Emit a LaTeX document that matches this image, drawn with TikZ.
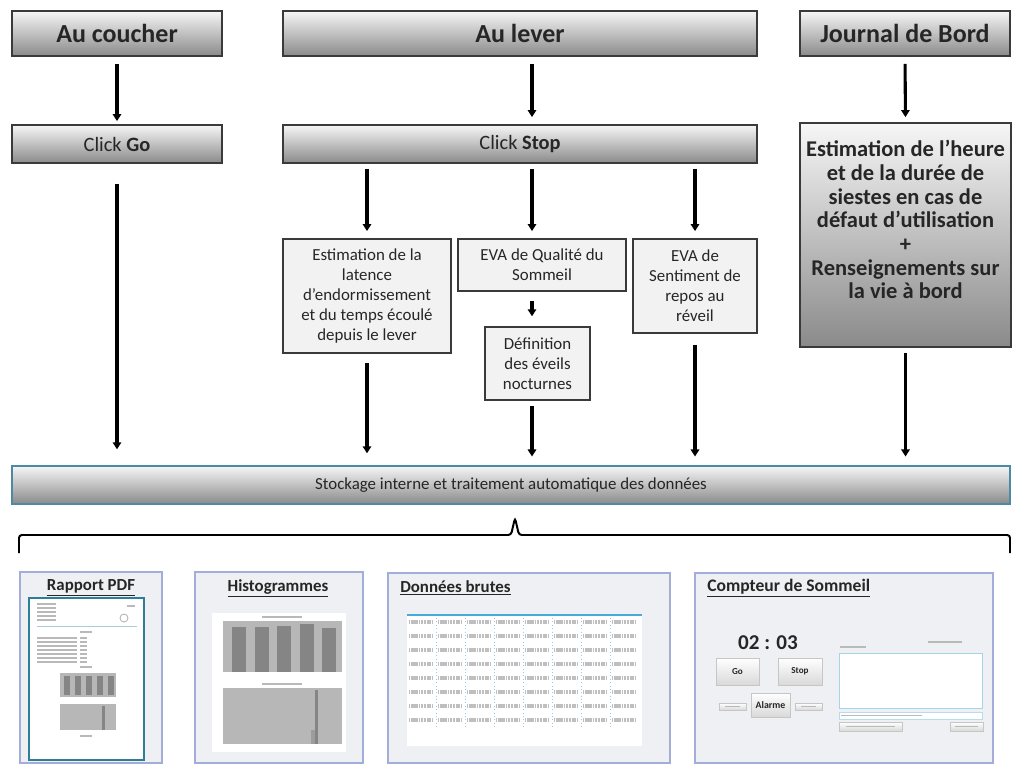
\documentclass[tikz,border=0pt]{standalone}
\usepackage{fontspec}
\setmainfont{Carlito}
\usetikzlibrary{arrows.meta}

\definecolor{boxline}{HTML}{3A3A3A}
\definecolor{boxtop}{HTML}{F6F6F6}
\definecolor{boxbot}{HTML}{8A8A8A}
\definecolor{flatfill}{HTML}{F2F2F2}
\definecolor{stockline}{HTML}{4C8AA4}
\definecolor{panelline}{HTML}{A4ACDA}
\definecolor{panelfill}{HTML}{EFF0F3}
\definecolor{barfill}{HTML}{B7B7B7}
\definecolor{bardark}{HTML}{858585}
\definecolor{pageline}{HTML}{2F7E98}
\definecolor{cyanline}{HTML}{47AAD8}

\begin{document}
\begin{tikzpicture}[x=0.025cm, y=-0.025cm,
    every node/.style={inner sep=2pt, align=center, text=black!85},
    headbox/.style={draw=boxline, line width=1pt, top color=boxtop, bottom color=boxbot},
    flatbox/.style={draw=boxline, line width=1pt, fill=flatfill},
    flow/.style={-{Triangle[width=6pt,length=5pt]}, line width=2.2pt},
    bigtext/.style={font=\fontsize{18.5}{22}\selectfont\bfseries},
    clicktext/.style={font=\fontsize{14.5}{17}\selectfont},
    smalltext/.style={font=\fontsize{12}{14.2}\selectfont},
    jtextstyle/.style={font=\fontsize{16}{16.8}\selectfont\bfseries},
    panel/.style={draw=panelline, line width=0.8pt, fill=panelfill},
    paneltitle/.style={font=\fontsize{12}{14}\selectfont\bfseries, inner sep=0pt},
    tiny/.style={draw=gray!55, line width=1pt},
    uibtn/.style={draw=gray!45, line width=0.5pt, top color=white, bottom color=gray!30},
]

    % Parameters
    \def\pw{0.025cm}

    \useasboundingbox (0,0) rectangle (1018,764);

    % =====================================================
    % Top row: moments
    % =====================================================
    \node[headbox, bigtext, minimum width=210*\pw, minimum height=45*\pw] (coucher) at (117,33.5) {Au coucher};
    \node[headbox, bigtext, minimum width=474*\pw, minimum height=45*\pw] (lever) at (520,33.5) {Au lever};
    \node[headbox, bigtext, minimum width=210*\pw, minimum height=45*\pw] (jtitle) at (905,33.5) {Journal de Bord};

    \node[headbox, clicktext, minimum width=210*\pw, minimum height=38*\pw] (go) at (117,144) {Click \textbf{Go}};
    \node[headbox, clicktext, minimum width=474*\pw, minimum height=38*\pw] (stop) at (520,144) {Click \textbf{Stop}};

    \node[headbox, minimum width=211*\pw, minimum height=224*\pw] (jbox) at (905.5,235) {};
    \node[jtextstyle, anchor=north] (jtext) at ([yshift=-0.38cm]jbox.north)
        {Estimation de l'heure\\et de la durée de\\siestes en cas de\\défaut d'utilisation\\+\\Renseignements sur\\la vie à bord};

    % =====================================================
    % Middle row: questionnaires
    % =====================================================
    \node[flatbox, smalltext, minimum width=168*\pw, minimum height=114*\pw] (estim) at (367,296)
        {Estimation de la\\latence\\d'endormissement\\et du temps écoulé\\depuis le lever};
    \node[flatbox, smalltext, minimum width=168*\pw, minimum height=52*\pw] (evaq) at (542,265)
        {EVA de Qualité du\\Sommeil};
    \node[flatbox, smalltext, minimum width=105*\pw, minimum height=73*\pw] (defin) at (537.5,363.5)
        {Définition\\des éveils\\nocturnes};
    \node[flatbox, smalltext, minimum width=124*\pw, minimum height=94*\pw] (evas) at (695,286)
        {EVA de\\Sentiment de\\repos au\\réveil};

    \node[draw=stockline, line width=1pt, top color=boxtop, bottom color=boxbot, font=\fontsize{12}{14}\selectfont,
        minimum width=998*\pw, minimum height=38*\pw] (stock) at (511,485)
        {Stockage interne et traitement automatique des données};

    \coordinate (midcol) at (532,0);

    % =====================================================
    % Arrows
    % =====================================================
    \draw[flow, shorten <=0.18cm, shorten >=0.08cm] (coucher.south) -- (go.north);
    \draw[flow, shorten <=0.18cm, shorten >=0.18cm] (lever.south -| midcol) -- (stop.north -| midcol);
    \draw[flow, shorten <=0.18cm, shorten >=0.13cm] (jtitle.south) -- (jbox.north);

    \draw[flow, shorten <=0.13cm, shorten >=0.18cm] (stop.south -| estim) -- (estim.north);
    \draw[flow, shorten <=0.13cm, shorten >=0.18cm] (stop.south -| midcol) -- (evaq.north -| midcol);
    \draw[flow, shorten <=0.13cm, shorten >=0.18cm] (stop.south -| evas) -- (evas.north);
    \draw[flow, shorten <=0.23cm, shorten >=0.25cm] (evaq.south -| midcol) -- (defin.north -| midcol);

    \draw[flow, shorten <=0.5cm, shorten >=0.4cm] (go.south) -- (go.south |- stock.north);
    \draw[flow, shorten <=0.23cm, shorten >=0.3cm] (estim.south) -- (estim.south |- stock.north);
    \draw[flow, shorten <=0.13cm, shorten >=0.22cm] (defin.south -| midcol) -- (stock.north -| midcol);
    \draw[flow, shorten <=0.28cm, shorten >=0.22cm] (evas.south) -- (evas.south |- stock.north);
    \draw[flow, shorten <=0.13cm, shorten >=0.22cm] (jbox.south) -- (jbox.south |- stock.north);

    % brace
    \coordinate (bracetip) at (515,518);
    \draw[line width=1.4pt, rounded corners=2pt]
        (19,553) -- (19,535) -- ([xshift=-0.1cm]bracetip |- 0,535) -- (bracetip)
        -- ([xshift=0.1cm]bracetip |- 0,535) -- (1010,535) -- (1010,553);

    % =====================================================
    % Bottom: outputs
    % =====================================================
    % Rapport PDF
    \draw[panel] (20,572) rectangle (162,763);
    \node[paneltitle] (pdftitle) at (91,588) {\underline{Rapport PDF}};
    \draw[fill=white, draw=pageline, line width=0.8pt] (29,598) rectangle (144,760);
    \foreach \yy in {604,608,612,616,620} {
        \draw[tiny] (37,\yy) -- (56,\yy);
    }
    \draw[tiny] (127,606) -- (135,606);
    \draw[gray!60, line width=0.6pt] (124,618) circle (4);
    \draw[pageline!40, line width=0.5pt] (37,626) -- (137,626);
    \draw[tiny] (80,632) -- (92,632);
    \foreach \yy in {638,642,...,662} {
        \draw[tiny] (37,\yy) -- (77,\yy);
        \draw[tiny] (80,\yy) -- (87,\yy);
    }
    \draw[tiny] (80,667) -- (92,667);
    \fill[barfill] (60,673) rectangle (116,697);
    \foreach \xx in {64,75,86,97,108} {
        \fill[bardark] (\xx,676) rectangle ++(6,19);
    }
    \fill[barfill] (60,704) rectangle (116,730);
    \fill[bardark] (102,706) rectangle (105,730);
    \draw[tiny] (80,736) -- (92,736);

    % Histogrammes
    \draw[panel] (195,572) rectangle (363,763);
    \node[paneltitle] (histtitle) at (278,588) {\underline{Histogrammes}};
    \fill[white] (212,613) rectangle (346,752);
    \draw[tiny] (262,617) -- (302,617);
    \fill[barfill] (223,621) rectangle (342,672);
    \foreach \xx/\tp in {232/627, 255/627, 277/626, 300/624, 322/628} {
        \fill[bardark] (\xx,\tp) rectangle (\xx+14,672);
    }
    \draw[tiny] (262,684) -- (302,684);
    \fill[barfill] (223,688) rectangle (342,744);
    \fill[bardark] (315,690) rectangle (318,744);
    \fill[bardark!80] (311,730) rectangle (315,744);

    % Donnees brutes
    \draw[panel] (388,573) rectangle (670,763);
    \node[paneltitle, anchor=west] (datatitle) at (400,588) {\underline{Données brutes}};
    \fill[white] (407,615) rectangle (642,746);
    \draw[cyanline, line width=0.8pt] (407,615) -- (642,615);
    \foreach \yy in {622,636,650,664,678,692,706,720} {
        \foreach \xx in {409,438,467,496,525,554,583,612} {
            \draw[gray!50, line width=2.8pt, dash pattern=on 0.9pt off 0.4pt on 0.5pt off 0.5pt] (\xx,\yy) -- (\xx+24,\yy);
        }
    }
    \foreach \xx in {436,465,494,523,552,581,610} {
        \draw[cyanline!60, line width=0.4pt, dotted] (\xx,618) -- (\xx,728);
    }

    % Compteur de Sommeil
    \draw[panel] (695,573) rectangle (993,763);
    \node[paneltitle, anchor=west, font=\fontsize{12.5}{14}\selectfont\bfseries] (counttitle) at (707,588) {\underline{Compteur de Sommeil}};
    \node[font=\fontsize{15}{17}\selectfont\bfseries] (clock) at (768,643) {02 : 03};
    \node[uibtn, minimum width=43*\pw, minimum height=27*\pw, font=\fontsize{6.5}{7}\selectfont\bfseries] (gobtn) at (737.5,671.5) {Go};
    \node[uibtn, minimum width=44*\pw, minimum height=27*\pw, font=\fontsize{6.5}{7}\selectfont\bfseries] (stopbtn) at (800,671.5) {Stop};
    \node[uibtn, minimum width=39*\pw, minimum height=24*\pw, font=\fontsize{7}{8}\selectfont\bfseries] (alarmbtn) at (770.5,705) {Alarme};
    \draw[uibtn] (719,703) rectangle (746,710);
    \draw[uibtn] (795,703) rectangle (822,710);
    \draw[tiny, line width=0.8pt] (725,706.5) -- (740,706.5);
    \draw[tiny, line width=0.8pt] (801,706.5) -- (816,706.5);
    \draw[tiny, line width=0.8pt] (840,647) -- (866,647);
    \draw[tiny, line width=0.8pt] (928,642) -- (962,642);
    \draw[fill=white, draw=cyanline!50, line width=0.5pt] (839,653) rectangle (982,708);
    \draw[fill=white, draw=cyanline!40, line width=0.4pt] (839,712) rectangle (982,719);
    \draw[tiny, line width=0.8pt] (841,715.5) -- (922,715.5);
    \draw[uibtn] (839,722) rectangle (902,731);
    \draw[uibtn] (950,722) rectangle (983,731);
    \draw[tiny, line width=0.8pt] (846,726.5) -- (895,726.5);
    \draw[tiny, line width=0.8pt] (955,726.5) -- (978,726.5);

\end{tikzpicture}
\end{document}
